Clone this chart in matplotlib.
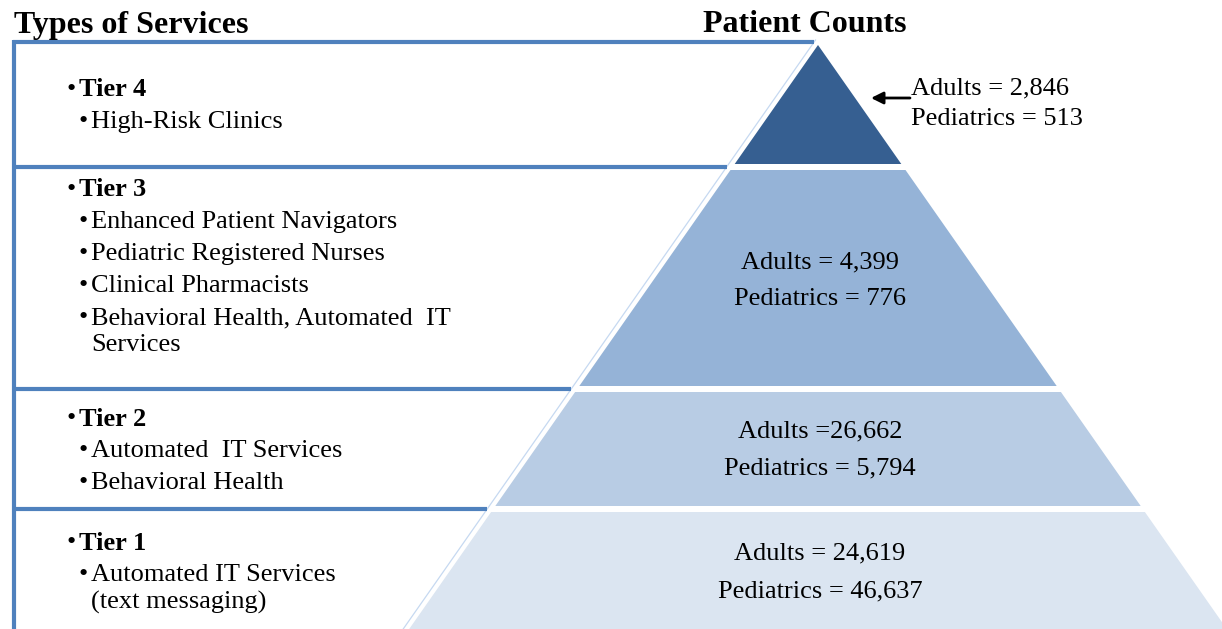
import matplotlib
matplotlib.use("Agg")
import matplotlib.pyplot as plt
from matplotlib.patches import Polygon

# ---- data ----
tiers = ["Tier 4", "Tier 3", "Tier 2", "Tier 1"]
services = [
    ["High-Risk Clinics"],
    ["Enhanced Patient Navigators", "Pediatric Registered Nurses",
     "Clinical Pharmacists", "Behavioral Health, Automated  IT\nServices"],
    ["Automated  IT Services", "Behavioral Health"],
    ["Automated IT Services\n(text messaging)"],
]
adults = [2846, 4399, 26662, 24619]
pediatrics = [513, 776, 5794, 46637]
adult_sep = [" = ", " = ", " =", " = "]
left_title = "Types of Services"
right_title = "Patient Counts"

# ---- layout / style ----
W, H = 1222, 629
colors = ["#365F91", "#95B3D7", "#B8CCE4", "#DBE5F1"]
line_col = "#4F81BD"
font = "Liberation Serif"
fs = 19
dy = 2  # small vertical text offset

apex_x, apex_y, k = 818, 45, 0.70
bands = [(45, 164), (170, 386), (392, 506), (512, 660)]
box_tops = [42, 167, 389, 509]
heading_y = [88, 188, 417, 541]
count_y = [None, (260, 297), (429, 466), (551, 589)]
thin_off = 6

fig = plt.figure(figsize=(W / 100, H / 100), dpi=100)
ax = fig.add_axes([0, 0, 1, 1])
ax.set_xlim(0, W)
ax.set_ylim(H, 0)
ax.axis("off")

def half(y):
    return k * (y - apex_y)

# pyramid
for i, (t, b) in enumerate(bands):
    pts = [(apex_x - half(t), t), (apex_x + half(t), t),
           (apex_x + half(b), b), (apex_x - half(b), b)]
    ax.add_patch(Polygon(pts, closed=True, facecolor=colors[i], edgecolor="none", zorder=2))

# thin light line parallel to left edge
ax.plot([apex_x - thin_off - half(40), apex_x - thin_off - half(660)], [40, 660],
        color="#C6D9F1", lw=0.9, zorder=1)

# left boxes
ax.plot([14, 14], [box_tops[0] - 2, H + 5], color=line_col, lw=3, solid_capstyle="butt", zorder=3)
for yb in box_tops:
    xe = apex_x - thin_off - half(yb)
    ax.plot([12.5, xe], [yb, yb], color=line_col, lw=3, solid_capstyle="butt", zorder=3)

# titles
ax.text(14, 25, left_title, fontsize=23, fontweight="bold", family=font,
        ha="left", va="center", zorder=5)
ax.text(805, 25, right_title, fontsize=23, fontweight="bold", family=font,
        ha="center", va="center", zorder=5)

# tier texts
for i, tier in enumerate(tiers):
    y = heading_y[i] + dy
    ax.text(66, y, "\u2022", fontsize=fs, family=font, ha="left", va="center", zorder=5)
    ax.text(79, y, tier, fontsize=fs, fontweight="bold", family=font,
            ha="left", va="center", zorder=5)
    y += 32
    for item in services[i]:
        lines = item.split("\n")
        ax.text(78, y, "\u2022", fontsize=fs, family=font, ha="left", va="center", zorder=5)
        for j, ln in enumerate(lines):
            ax.text(91, y, ln, fontsize=fs, family=font, ha="left", va="center", zorder=5)
            if j < len(lines) - 1:
                y += 27
        y += 32

# counts
for i in range(1, 4):
    ya, yp = count_y[i]
    ax.text(820, ya + dy, f"Adults{adult_sep[i]}{adults[i]:,}", fontsize=fs, family=font,
            ha="center", va="center", zorder=5)
    ax.text(820, yp + dy, f"Pediatrics = {pediatrics[i]:,}", fontsize=fs, family=font,
            ha="center", va="center", zorder=5)

# tier 4 annotation
ax.text(911, 86 + dy, f"Adults{adult_sep[0]}{adults[0]:,}", fontsize=fs, family=font,
        ha="left", va="center", zorder=5)
ax.text(911, 117 + dy, f"Pediatrics = {pediatrics[0]:,}", fontsize=fs, family=font,
        ha="left", va="center", zorder=5)
ax.annotate("", xy=(871, 98), xytext=(910, 98),
            arrowprops=dict(arrowstyle="-|>", color="black", lw=2, mutation_scale=18,
                            shrinkA=0, shrinkB=0), zorder=5)

fig.savefig("out.png", dpi=100, facecolor="white")
